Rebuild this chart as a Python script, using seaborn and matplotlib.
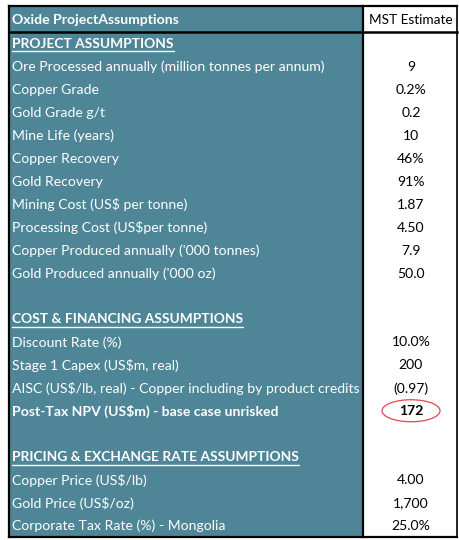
import matplotlib
matplotlib.use("Agg")
import matplotlib.pyplot as plt
from matplotlib.patches import Rectangle, Ellipse
import seaborn as sns

sns.set_style("white")
plt.rcParams['font.family'] = ['Lato', 'DejaVu Sans']

title_left = "Oxide ProjectAssumptions"
title_right = "MST Estimate"

labels = [
    "PROJECT ASSUMPTIONS",
    "Ore Processed annually (million tonnes per annum)",
    "Copper Grade",
    "Gold Grade g/t",
    "Mine Life (years)",
    "Copper Recovery",
    "Gold Recovery",
    "Mining Cost (US$ per tonne)",
    "Processing Cost (US$per tonne)",
    "Copper Produced annually ('000 tonnes)",
    "Gold Produced annually ('000 oz)",
    "",
    "COST & FINANCING ASSUMPTIONS",
    "Discount Rate (%)",
    "Stage 1 Capex (US$m, real)",
    "AISC (US$/lb, real) - Copper including by product credits",
    "Post-Tax NPV (US$m) - base case unrisked",
    "",
    "PRICING & EXCHANGE RATE ASSUMPTIONS",
    "Copper Price (US$/lb)",
    "Gold Price (US$/oz)",
    "Corporate Tax Rate (%) - Mongolia",
]
values = [
    "", "9", "0.2%", "0.2", "10", "46%", "91%", "1.87", "4.50", "7.9", "50.0",
    "", "", "10.0%", "200", "(0.97)", "172",
    "", "", "4.00", "1,700", "25.0%",
]
kinds = [
    "section", "row", "row", "row", "row", "row", "row", "row", "row", "row", "row",
    "blank", "section", "row", "row", "row", "highlight",
    "blank", "section", "row", "row", "row",
]

TEAL = "#4F8697"
W, H = 460, 540
fig = plt.figure(figsize=(W / 100, H / 100), dpi=100)
ax = fig.add_axes([0, 0, 1, 1])
ax.set_xlim(0, W)
ax.set_ylim(H, 0)
ax.axis("off")

x0, xm, x1 = 9.5, 363.5, 457.5
y_top, y_head, y_bot = 5.5, 31.5, 536.5
n = len(labels)
rh = (y_bot - y_head) / n

# backgrounds
ax.add_patch(Rectangle((x0, y_top), xm - x0, y_bot - y_top, facecolor=TEAL, edgecolor="none", zorder=1))
ax.add_patch(Rectangle((xm, y_top), x1 - xm, y_bot - y_top, facecolor="white", edgecolor="none", zorder=1))
# borders
lk = dict(color="black", zorder=3, solid_capstyle="projecting")
ax.plot([x0, x1], [y_top, y_top], lw=1.6, **lk)
ax.plot([x0, x1], [y_bot, y_bot], lw=1.6, **lk)
ax.plot([x0, x0], [y_top, y_bot], lw=1.6, **lk)
ax.plot([x1, x1], [y_top, y_bot], lw=1.2, **lk)
ax.plot([xm, xm], [y_top, y_bot], lw=1.6, **lk)
ax.plot([x0, x1], [y_head, y_head], lw=1.8, **lk)

fs = 10.1
fs_sec = 9.9
tx = 12
vx = (xm + x1) / 2 + 0.5
ax.text(tx, (y_top + y_head) / 2 + 1.5, title_left, color="white", fontsize=fs,
        fontweight="bold", ha="left", va="center", zorder=4)
ax.text(vx, (y_top + y_head) / 2 + 1.5, title_right, color="black", fontsize=9.8,
        ha="center", va="center", zorder=4)

fig.canvas.draw()
renderer = fig.canvas.get_renderer()
inv = ax.transData.inverted()

for i, (lab, val, kind) in enumerate(zip(labels, values, kinds)):
    yc = y_head + rh * (i + 0.5) + 1.0
    if kind == "blank":
        continue
    bold = kind in ("section", "highlight")
    t = ax.text(tx, yc, lab, color="white",
                fontsize=fs_sec if kind == "section" else fs,
                fontweight="bold" if bold else "normal",
                ha="left", va="center", zorder=4)
    if kind == "section":
        bb = t.get_window_extent(renderer)
        (bx0, by0), (bx1, by1) = inv.transform([[bb.x0, bb.y0], [bb.x1, bb.y1]])
        uy = yc + 7.5
        ax.plot([bx0, bx1], [uy, uy], color="white", lw=1.0, zorder=4)
    if val:
        ax.text(vx, yc, val, color="black", fontsize=fs,
                fontweight="bold" if kind == "highlight" else "normal",
                ha="center", va="center", zorder=4)
    if kind == "highlight":
        ax.add_patch(Ellipse((vx, yc - 0.5), 58, 22, fill=False, edgecolor="#E0474C",
                             lw=0.9, zorder=5))

fig.savefig("out.png", dpi=100)
